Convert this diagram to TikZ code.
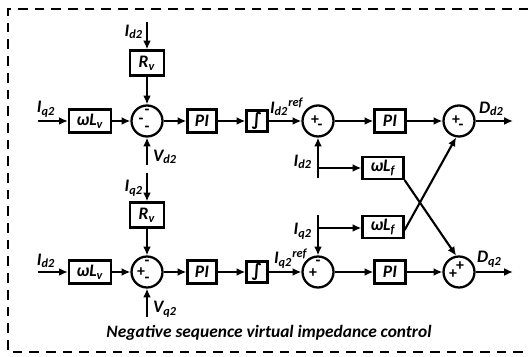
\documentclass[tikz,border=0pt]{standalone}
\usepackage{fontspec}
\setmainfont{Carlito}
\newfontfamily\symfont{DejaVu Sans}
\usetikzlibrary{arrows.meta,calc}
\begin{document}
\begin{tikzpicture}[x=0.02cm,y=-0.02cm,
  font=\fontsize{10}{12}\selectfont\bfseries\itshape,
  every path/.style={line width=1.2pt},
  >={Latex[length=5pt,width=4.5pt]},
  blk/.style={draw,line width=1.3pt,minimum width=#1*0.02cm,minimum height=23*0.02cm,inner sep=0pt},
  blk/.default=30,
  sumc/.style={draw,circle,line width=1.3pt,minimum size=31*0.02cm,inner sep=0pt},
  sgn/.style={font=\fontsize{9}{10}\selectfont\bfseries,inner sep=0pt},
  lbl/.style={inner sep=0pt}]
\useasboundingbox (0,0) rectangle (530,357);
\draw[line width=1pt,dash pattern=on 5.5pt off 4pt] (545,9) -- (8,9) -- (8,352) -- (545,352);

% ---------- top (d) loop ----------
\node[blk=42] (wlv1) at (90,121) {ωL\textsubscript{v}};
\node[sumc] (s1) at (147,121) {};
\node[blk=34,minimum height=25*0.02cm] (rv1) at (147,63) {R\textsubscript{v}};
\node[blk=29] (pi1) at (202,121) {PI};
\node[blk=21,minimum height=21*0.02cm] (int1) at (257,121) {\symfont\bfseries ∫};
\node[sumc] (s2) at (318,121) {};
\node[blk=31] (pi2) at (390,121) {PI};
\node[sumc] (s3) at (459,121) {};
\node[blk=41,minimum height=22*0.02cm] (wlf1) at (383,168) {ωL\textsubscript{f}};
\node[blk=41,minimum height=22*0.02cm] (wlf2) at (383,227) {ωL\textsubscript{f}};

\coordinate (in1) at (38,121);
\coordinate (id2top) at (147,22);
\coordinate (vd2) at (147,165);
\coordinate (id2fb) at (318,178);
\coordinate (br1) at (318,168);
\coordinate (dd2) at (513,121);

\draw[->] (in1) -- (wlv1);
\draw[->] (id2top) -- (rv1);
\draw[->] (rv1) -- (s1);
\draw[->] (vd2) -- (s1);
\draw[->] (wlv1) -- (s1);
\draw[->] (s1) -- (pi1);
\draw[->] (pi1) -- (int1);
\draw[->] (int1) -- (s2);
\draw[->] (id2fb) -- (s2);
\draw[->] (br1) -- (wlf1);
\draw[->] (s2) -- (pi2);
\draw[->] (pi2) -- (s3);
\draw[->] (s3) -- (dd2);

\node[lbl,anchor=south] at (46,118) {I\textsubscript{q2}};
\node[lbl,anchor=east] at (144,32) {I\textsubscript{d2}};
\node[lbl,anchor=west] at (152,157) {V\textsubscript{d2}};
\node[lbl,anchor=south west] at (269,117) {I\textsubscript{d2}\textsuperscript{ref}};
\node[lbl,anchor=east] at (313,162) {I\textsubscript{d2}};
\node[lbl,anchor=south west] at (478,117) {D\textsubscript{d2}};

\node[sgn] at ($(s1)+(0,-9)$) {-};
\node[sgn] at ($(s1)+(-6,0)$) {-};
\node[sgn] at ($(s1)+(0,8)$) {-};
\node[sgn] at ($(s2)+(-3,-1)$) {+};
\node[sgn] at ($(s2)+(2,6)$) {-};
\node[sgn] at ($(s3)+(-3,-1)$) {+};
\node[sgn] at ($(s3)+(2,6)$) {-};

% ---------- bottom (q) loop ----------
\node[blk=42] (wlv2) at (90,272) {ωL\textsubscript{v}};
\node[sumc] (s4) at (147,272) {};
\node[blk=34,minimum height=25*0.02cm] (rv2) at (147,215) {R\textsubscript{v}};
\node[blk=29] (pi3) at (202,272) {PI};
\node[blk=21,minimum height=21*0.02cm] (int2) at (257,272) {\symfont\bfseries ∫};
\node[sumc] (s5) at (318,272) {};
\node[blk=31] (pi4) at (390,272) {PI};
\node[sumc] (s6) at (459,272) {};

\coordinate (in2) at (38,272);
\coordinate (iq2top) at (147,173);
\coordinate (vq2) at (147,317);
\coordinate (iq2fb) at (318,215);
\coordinate (br2) at (318,228);
\coordinate (dq2) at (513,272);

\draw[->] (in2) -- (wlv2);
\draw[->] (iq2top) -- (rv2);
\draw[->] (rv2) -- (s4);
\draw[->] (vq2) -- (s4);
\draw[->] (wlv2) -- (s4);
\draw[->] (s4) -- (pi3);
\draw[->] (pi3) -- (int2);
\draw[->] (int2) -- (s5);
\draw[->] (iq2fb) -- (s5);
\draw[->] (br2) -- (wlf2.west |- br2);
\draw[->] (s5) -- (pi4);
\draw[->] (pi4) -- (s6);
\draw[->] (s6) -- (dq2);

% cross connections
\draw[->] (wlf1.south east) -- (s6.100);
\draw[->] ($(wlf2.east)+(0,3)$) -- (s3.-100);

\node[lbl,anchor=south] at (46,269) {I\textsubscript{d2}};
\node[lbl,anchor=east] at (144,188) {I\textsubscript{q2}};
\node[lbl,anchor=west] at (152,309) {V\textsubscript{q2}};
\node[lbl,anchor=south west] at (273,269) {I\textsubscript{q2}\textsuperscript{ref}};
\node[lbl,anchor=east] at (313,231) {I\textsubscript{q2}};
\node[lbl,anchor=south west] at (476,268) {D\textsubscript{q2}};

\node[sgn] at ($(s4)+(0,-9)$) {-};
\node[sgn] at ($(s4)+(-6,0)$) {+};
\node[sgn] at ($(s4)+(0,8)$) {-};
\node[sgn] at ($(s5)+(0,-9)$) {-};
\node[sgn] at ($(s5)+(-5,1)$) {+};
\node[sgn] at ($(s6)+(-6,2)$) {+};
\node[sgn] at ($(s6)+(1,-6)$) {+};

\node[lbl,font=\fontsize{9.9}{12}\selectfont\bfseries\itshape] (title) at (269,333) {Negative sequence virtual impedance control};
\end{tikzpicture}
\end{document}
